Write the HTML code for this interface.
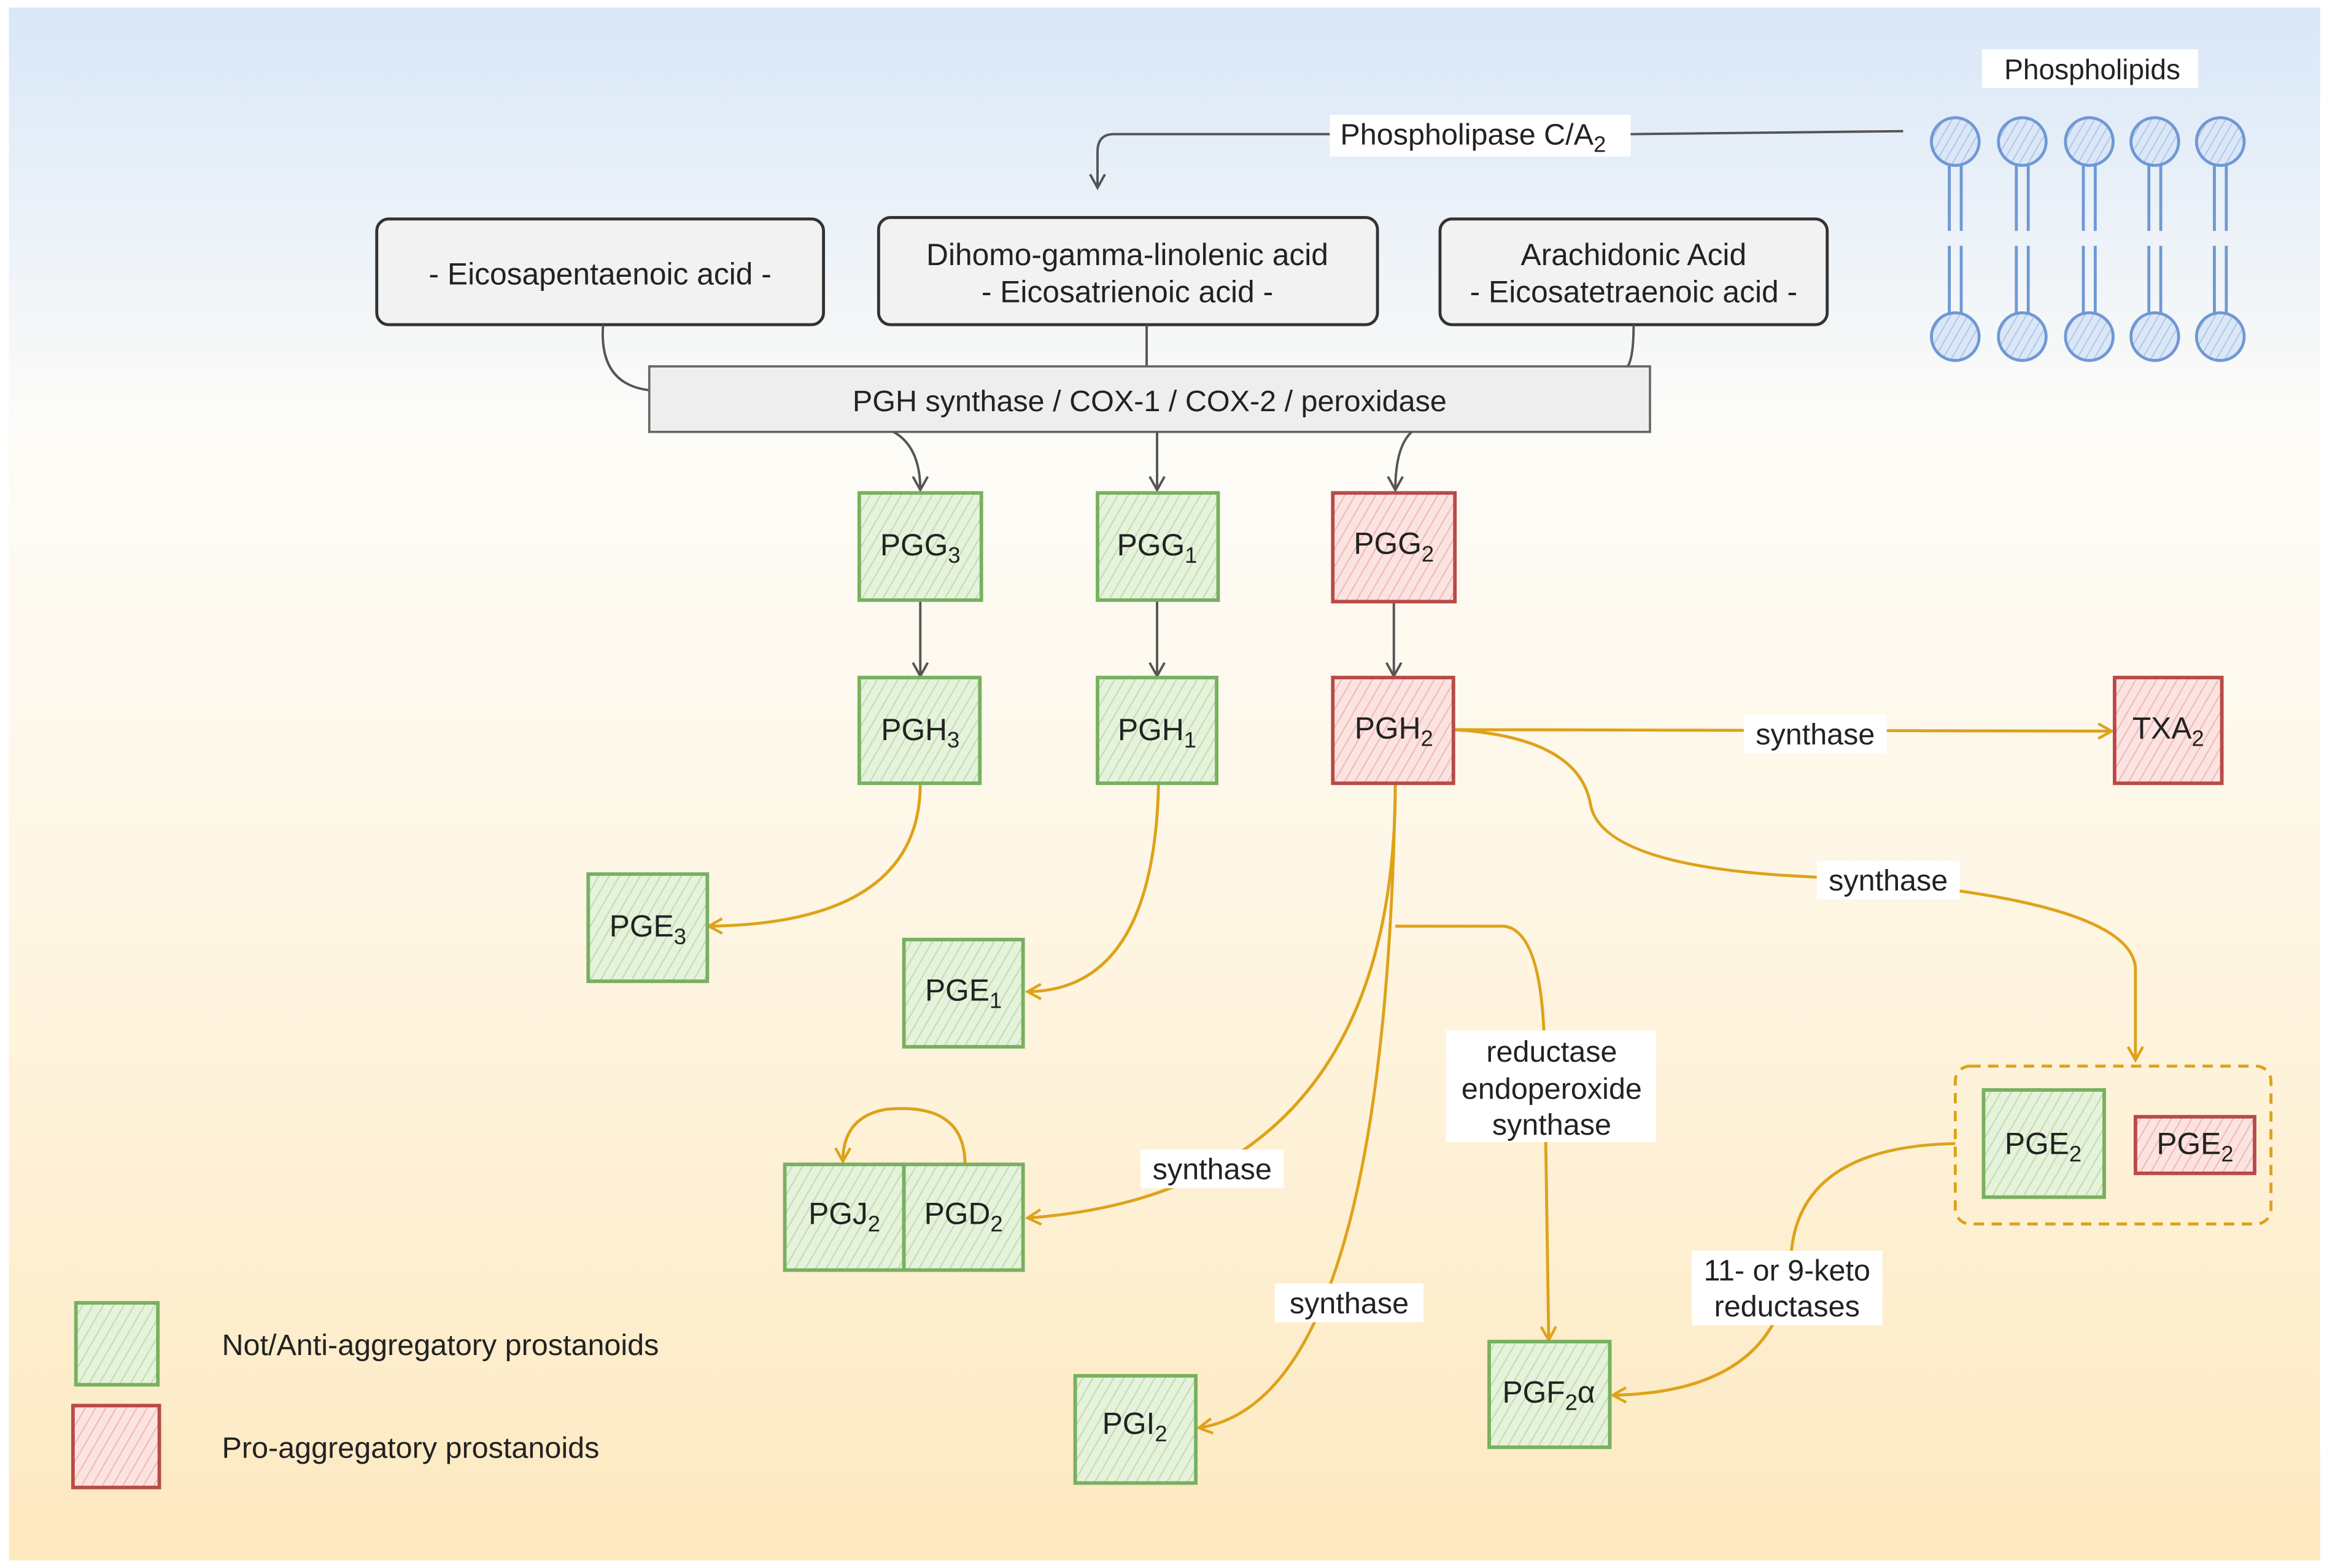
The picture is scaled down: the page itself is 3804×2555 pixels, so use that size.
<!DOCTYPE html>
<html><head><meta charset="utf-8"><style>
html,body{margin:0;padding:0;width:3804px;height:2555px;overflow:hidden;background:#fff}
svg{display:block}
text{font-family:"Liberation Sans",sans-serif;fill:#222}
</style></head><body>
<svg width="3804" height="2555" viewBox="0 0 1568 1053" xmlns="http://www.w3.org/2000/svg">
<defs>
<linearGradient id="bg" x1="0" y1="0" x2="0" y2="1">
<stop offset="0" stop-color="#d9e7f8"/><stop offset="0.27" stop-color="#fdfcf8"/><stop offset="0.5" stop-color="#fef8ea"/><stop offset="1" stop-color="#fde9c0"/>
</linearGradient>
<pattern id="hg" width="6" height="6" patternUnits="userSpaceOnUse" patternTransform="rotate(30)">
<rect width="6" height="6" fill="#e6f2dc"/><line x1="0" y1="0" x2="0" y2="6" stroke="#b9dca6" stroke-width="1.5"/></pattern>
<pattern id="hr" width="6" height="6" patternUnits="userSpaceOnUse" patternTransform="rotate(30)">
<rect width="6" height="6" fill="#fbe3e1"/><line x1="0" y1="0" x2="0" y2="6" stroke="#f1b3b0" stroke-width="1.5"/></pattern>
<pattern id="hb" width="5" height="5" patternUnits="userSpaceOnUse" patternTransform="rotate(30)">
<rect width="5" height="5" fill="#dbe7f7"/><line x1="0" y1="0" x2="0" y2="5" stroke="#9fbde6" stroke-width="1.2"/></pattern>
<marker id="ag" markerWidth="12" markerHeight="12" refX="10" refY="6" orient="auto" markerUnits="userSpaceOnUse"><path d="M1,1 L10,6 L1,11" fill="none" stroke="#555" stroke-width="1.6"/></marker>
<marker id="ao" markerWidth="12" markerHeight="12" refX="10" refY="6" orient="auto" markerUnits="userSpaceOnUse"><path d="M1,1 L10,6 L1,11" fill="none" stroke="#dea21a" stroke-width="1.8"/></marker>
</defs>
<rect x="0" y="0" width="1568" height="1053" fill="#fff"/>
<rect x="6" y="5" width="1552" height="1043" fill="url(#bg)"/>

<rect x="1331" y="33" width="145" height="26" fill="#fff"/>
<text x="1405" y="53" font-size="19" text-anchor="middle">Phospholipids</text>
<g stroke="#6f98d4" stroke-width="2" fill="url(#hb)">
<g id="lp"><circle cx="1313" cy="95" r="16"/><line x1="1309" y1="111" x2="1309" y2="155"/><line x1="1317" y1="111" x2="1317" y2="155"/><line x1="1309" y1="165" x2="1309" y2="210"/><line x1="1317" y1="165" x2="1317" y2="210"/><circle cx="1313" cy="226" r="16"/></g>
<use href="#lp" x="45"/><use href="#lp" x="90"/><use href="#lp" x="134"/><use href="#lp" x="178"/>
</g>

<path d="M1278,88 L1095,90 M893,90 L748,90 Q737,90 737,102 L737,126" fill="none" stroke="#555" stroke-width="1.6" marker-end="url(#ag)"/>
<rect x="893" y="77" width="202" height="28" fill="#fff"/>
<text x="900" y="97" font-size="20">Phospholipase C/A<tspan font-size="15" dy="5">2</tspan></text>

<g fill="#f2f2f2" stroke="#333" stroke-width="2">
<rect x="253" y="147" width="300" height="71" rx="8"/>
<rect x="590" y="146" width="335" height="72" rx="8"/>
<rect x="967" y="147" width="260" height="71" rx="8"/>
</g>
<g font-size="20.5" text-anchor="middle">
<text x="403" y="191">- Eicosapentaenoic acid -</text>
<text x="757" y="178">Dihomo-gamma-linolenic acid</text>
<text x="757" y="203">- Eicosatrienoic acid -</text>
<text x="1097" y="178">Arachidonic Acid</text>
<text x="1097" y="203">- Eicosatetraenoic acid -</text>
</g>
<g fill="none" stroke="#555" stroke-width="1.6">
<path d="M405,218 Q402,258 436,262"/><path d="M770,218 L770,246"/><path d="M1097,218 Q1097,240 1093,246"/>
</g>
<rect x="436" y="246" width="672" height="44" fill="#eee" stroke="#666" stroke-width="1.5"/>
<text x="772" y="276" font-size="20" text-anchor="middle" fill="#333">PGH synthase / COX-1 / COX-2 / peroxidase</text>
<g fill="none" stroke="#555" stroke-width="1.6" marker-end="url(#ag)">
<path d="M600,290 Q618,300 618,329"/><path d="M777,290 L777,329"/><path d="M948,290 Q937,300 937,329"/>
<path d="M618,403 L618,454"/><path d="M777,403 L777,454"/><path d="M936,404 L936,454"/>
</g>

<g fill="none" stroke="#dea21a" stroke-width="2" marker-end="url(#ao)">
<path d="M618,526 Q618,620 476,622"/>
<path d="M778,526 Q775,665 690,666"/>
<path d="M976,490 L1418,491"/>
<path d="M976,490 Q1060,495 1068,540 Q1075,580 1200,588 Q1430,600 1434,650 L1434,712"/>
<path d="M937,526 Q937,800 690,818"/>
<path d="M937,526 Q930,940 805,959"/>
<path d="M937,622 L1010,622 Q1035,625 1037,700 L1040,900"/>
<path d="M1313,768 Q1210,770 1203,840 Q1200,935 1083,937"/>
<path d="M648,782 Q648,740 595,745 Q566,750 566,780"/>
</g>
<g font-size="20" text-anchor="middle">
<rect x="1171" y="480" width="96" height="26" fill="#fff"/><text x="1219" y="500">synthase</text>
<rect x="1220" y="578" width="96" height="26" fill="#fff"/><text x="1268" y="598">synthase</text>
<rect x="766" y="772" width="96" height="26" fill="#fff"/><text x="814" y="792">synthase</text>
<rect x="856" y="862" width="100" height="26" fill="#fff"/><text x="906" y="882">synthase</text>
<rect x="971" y="692" width="141" height="75" fill="#fff"/><text x="1042" y="713">reductase</text><text x="1042" y="738">endoperoxide</text><text x="1042" y="762">synthase</text>
<rect x="1136" y="840" width="128" height="50" fill="#fff"/><text x="1200" y="860">11- or 9-keto</text><text x="1200" y="884">reductases</text>
</g>

<g stroke-width="2.4">
<g fill="url(#hg)" stroke="#78b060">
<rect x="577" y="331" width="82" height="72"/><rect x="737" y="331" width="81" height="72"/>
<rect x="577" y="455" width="81" height="71"/><rect x="737" y="455" width="80" height="71"/>
<rect x="395" y="587" width="80" height="72"/><rect x="607" y="631" width="80" height="72"/>
<rect x="527" y="782" width="80" height="71"/><rect x="607" y="782" width="80" height="71"/>
<rect x="722" y="924" width="81" height="72"/><rect x="1000" y="901" width="81" height="71"/>
<rect x="1332" y="732" width="81" height="72"/>
<rect x="51" y="875" width="55" height="55"/>
</g>
<g fill="url(#hr)" stroke="#b84a48">
<rect x="895" y="331" width="82" height="73"/><rect x="895" y="455" width="81" height="71"/>
<rect x="1420" y="455" width="72" height="71"/><rect x="1434" y="750" width="80" height="38"/>
<rect x="49" y="944" width="58" height="55"/>
</g>
</g>
<rect x="1313" y="716" width="212" height="106" rx="10" fill="none" stroke="#dea21a" stroke-width="2" stroke-dasharray="7,5"/>
<g font-size="20.5" text-anchor="middle">
<text x="618" y="373">PGG<tspan font-size="15" dy="5">3</tspan></text>
<text x="777" y="373">PGG<tspan font-size="15" dy="5">1</tspan></text>
<text x="936" y="372">PGG<tspan font-size="15" dy="5">2</tspan></text>
<text x="618" y="497">PGH<tspan font-size="15" dy="5">3</tspan></text>
<text x="777" y="497">PGH<tspan font-size="15" dy="5">1</tspan></text>
<text x="936" y="496">PGH<tspan font-size="15" dy="5">2</tspan></text>
<text x="1456" y="496">TXA<tspan font-size="15" dy="5">2</tspan></text>
<text x="435" y="629">PGE<tspan font-size="15" dy="5">3</tspan></text>
<text x="647" y="672">PGE<tspan font-size="15" dy="5">1</tspan></text>
<text x="567" y="822">PGJ<tspan font-size="15" dy="5">2</tspan></text>
<text x="647" y="822">PGD<tspan font-size="15" dy="5">2</tspan></text>
<text x="762" y="963">PGI<tspan font-size="15" dy="5">2</tspan></text>
<text x="1040" y="942">PGF<tspan font-size="15" dy="5">2</tspan><tspan dy="-5">α</tspan></text>
<text x="1372" y="775">PGE<tspan font-size="15" dy="5">2</tspan></text>
<text x="1474" y="775">PGE<tspan font-size="15" dy="5">2</tspan></text>
</g>
<text x="149" y="910" font-size="20">Not/Anti-aggregatory prostanoids</text>
<text x="149" y="979" font-size="20">Pro-aggregatory prostanoids</text>
</svg>
</body></html>
